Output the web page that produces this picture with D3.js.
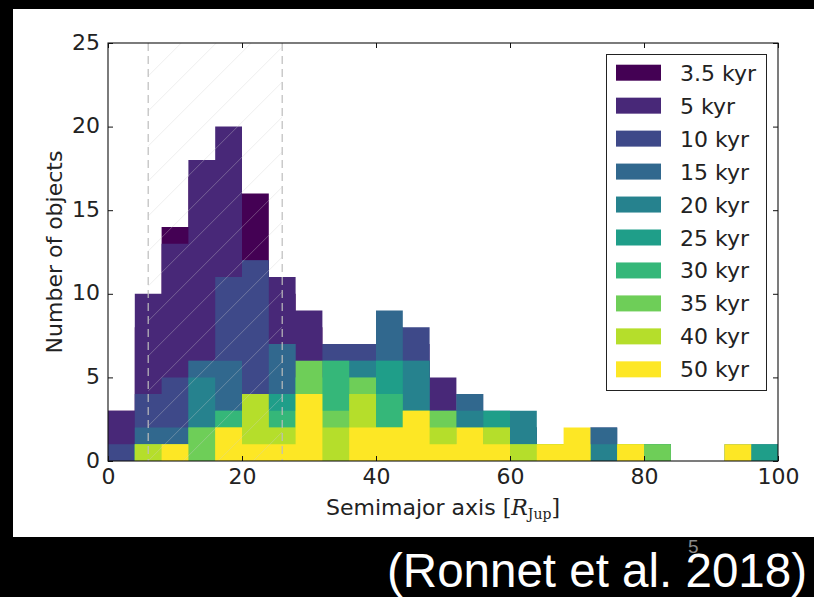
<!DOCTYPE html>
<html><head><meta charset="utf-8">
<script src="https://cdn.jsdelivr.net/npm/d3@7/dist/d3.min.js"></script>
<style>
html,body{margin:0;padding:0;background:#000;}
svg{display:block;}
</style></head><body>
<svg id="chart" width="814" height="597"></svg>
<script>
// ---------- data ----------
const binStarts = [0,4,8,12,16,20,24,28,32,36,40,44,48,52,56,60,64,68,72,76,80,84,88,92,96];
const binWidth = 4;
const seriesNames = ["3.5 kyr","5 kyr","10 kyr","15 kyr","20 kyr","25 kyr","30 kyr","35 kyr","40 kyr","50 kyr"];
const seriesColors = ["#440154","#482878","#3e4989","#31688e","#26828e","#1f9e89","#35b779","#6ece58","#b5de2b","#fde725"];
const counts3_5kyr = [3,8,14,17,18,16,10,8,6,6,7,6,4,3,2,1,1,1,1,0,0,0,0,0,0];
const counts5kyr   = [3,10,13,18,20,12,11,9,7,6,8,7,5,3,2,2,1,1,1,0,1,0,0,0,0];
const counts10kyr  = [1,4,5,6,11,12,7,6,7,7,8,8,3,4,2,2,1,1,2,0,1,0,0,0,0];
const counts15kyr  = [0,2,2,6,6,4,7,5,6,6,9,6,3,4,3,2,1,1,2,1,0,0,0,0,1];
const counts20kyr  = [0,1,1,5,3,4,4,5,6,6,6,6,3,3,2,3,1,1,1,0,1,0,0,1,0];
const counts25kyr  = [0,1,1,2,3,3,4,5,5,5,6,3,2,2,3,1,0,1,0,1,0,0,0,0,1];
const counts30kyr  = [0,1,1,2,3,3,3,5,6,4,4,3,2,2,1,1,1,1,0,0,1,0,0,0,0];
const counts35kyr  = [0,1,0,2,2,3,2,6,3,5,2,2,3,1,2,1,0,1,0,1,1,0,0,0,0];
const counts40kyr  = [0,1,1,0,2,4,2,3,2,4,2,3,2,1,2,1,1,1,0,1,0,0,0,0,0];
const counts50kyr  = [0,0,1,0,2,1,1,4,0,2,2,3,1,2,1,0,1,2,0,1,0,0,0,1,0];
const seriesCounts = [counts3_5kyr,counts5kyr,counts10kyr,counts15kyr,counts20kyr,counts25kyr,counts30kyr,counts35kyr,counts40kyr,counts50kyr];
const xTicks = [0,20,40,60,80,100];
const yTicks = [0,5,10,15,20,25];
const shadedRange = [6,26];

// ---------- layout ----------
const svg = d3.select("#chart");
const L = 108, R = 778, T = 43, B = 461;
const x = d3.scaleLinear().domain([0,100]).range([L,R]);
const y = d3.scaleLinear().domain([0,25]).range([B,T]);
const FONT = "'DejaVu Sans', sans-serif";

svg.append("rect").attr("x",0).attr("y",0).attr("width",814).attr("height",597).attr("fill","#000");
svg.append("rect").attr("x",13).attr("y",9).attr("width",801).attr("height",528).attr("fill","#fff");

// clip
const defs = svg.append("defs");
defs.append("clipPath").attr("id","plotclip")
  .append("rect").attr("x",L).attr("y",T).attr("width",R-L).attr("height",B-T);
defs.append("clipPath").attr("id","shadeclip")
  .append("rect").attr("x",x(shadedRange[0])).attr("y",T).attr("width",x(shadedRange[1])-x(shadedRange[0])).attr("height",B-T);

const plot = svg.append("g").attr("clip-path","url(#plotclip)");

// histograms (stepfilled), drawn in order, later on top
const area = d3.area()
  .x(d => x(d[0]))
  .y0(y(0))
  .y1(d => y(d[1]))
  .curve(d3.curveStepAfter);
seriesCounts.forEach((counts, i) => {
  const pts = binStarts.map((b, j) => [b, counts[j]]);
  pts.push([binStarts[binStarts.length-1] + binWidth, counts[counts.length-1]]);
  plot.append("path").attr("d", area(pts)).attr("fill", seriesColors[i]);
});

// hatch region
const hatch = svg.append("g").attr("clip-path","url(#shadeclip)");
const spacing = 35;
for (let k = -15; k <= 3; k++) {
  const x0 = x(shadedRange[0]) + k*spacing;
  hatch.append("line")
    .attr("x1", x0).attr("y1", B)
    .attr("x2", x0 + (B-T)).attr("y2", T)
    .attr("stroke","#d0d0d0").attr("stroke-opacity",0.35).attr("stroke-width",1);
}
// dashed lines
shadedRange.forEach(v => {
  svg.append("line").attr("x1",x(v)).attr("x2",x(v)).attr("y1",T).attr("y2",B)
    .attr("stroke","#bdbdbd").attr("stroke-width",1.2).attr("stroke-dasharray","8,5");
});

// axes frame
svg.append("rect").attr("x",L).attr("y",T).attr("width",R-L).attr("height",B-T)
  .attr("fill","none").attr("stroke","#111").attr("stroke-width",1.1);

// ticks (inward, all sides)
const tickLen = 5;
const axisB = svg.append("g").attr("transform",`translate(0,${B})`)
  .call(d3.axisBottom(x).tickValues(xTicks).tickSize(-tickLen).tickPadding(9).tickFormat(d3.format("d")));
const axisT = svg.append("g").attr("transform",`translate(0,${T})`)
  .call(d3.axisTop(x).tickValues(xTicks).tickSize(-tickLen).tickFormat(""));
const axisL = svg.append("g").attr("transform",`translate(${L},0)`)
  .call(d3.axisLeft(y).tickValues(yTicks).tickSize(-tickLen).tickPadding(9).tickFormat(d3.format("d")));
const axisR = svg.append("g").attr("transform",`translate(${R},0)`)
  .call(d3.axisRight(y).tickValues(yTicks).tickSize(-tickLen).tickFormat(""));
[axisB,axisT,axisL,axisR].forEach(a => {
  a.select(".domain").remove();
  a.selectAll(".tick line").attr("stroke","#111").attr("stroke-width",1);
  a.selectAll("text").attr("font-family",FONT).attr("font-size",22).attr("fill","#222");
});
axisB.selectAll("text").attr("dy",null).attr("y",23);
axisL.selectAll("text").attr("dy",null).attr("y",6).attr("x",-8);

// axis labels
const xl = svg.append("text").attr("x",443).attr("y",515).attr("text-anchor","middle")
  .attr("font-family",FONT).attr("font-size",22).attr("fill","#222");
xl.append("tspan").text("Semimajor axis ");
xl.append("tspan").attr("font-family","'DejaVu Serif', serif").text("[");
xl.append("tspan").attr("font-family","'DejaVu Serif', serif").attr("font-style","italic").text("R");
xl.append("tspan").attr("font-family","'DejaVu Serif', serif").attr("font-size",14).attr("dy",4).text("Jup");
xl.append("tspan").attr("font-family","'DejaVu Serif', serif").attr("dy",-4).text("]");

svg.append("text").attr("transform","translate(62,252) rotate(-90)").attr("text-anchor","middle")
  .attr("font-family",FONT).attr("font-size",22).attr("fill","#222").text("Number of objects");

// legend
const lg = svg.append("g");
lg.append("rect").attr("x",606.5).attr("y",54.5).attr("width",160).attr("height",336)
  .attr("fill","#fff").attr("stroke","#222").attr("stroke-width",1);
seriesNames.forEach((name, i) => {
  const cy = 72.7 + i*32.96;
  lg.append("rect").attr("x",616).attr("y",cy-8).attr("width",45).attr("height",16).attr("fill",seriesColors[i]);
  lg.append("text").attr("x",680).attr("y",cy+8).attr("font-family",FONT).attr("font-size",22)
    .attr("fill","#222").text(name);
});

// footer
svg.append("text").attr("x",387).attr("y",587).attr("font-family","'Liberation Sans', Arial, sans-serif")
  .attr("font-size",48).attr("fill","#fff").attr("textLength",420).attr("lengthAdjust","spacingAndGlyphs")
  .text("(Ronnet et al. 2018)");
svg.append("text").attr("x",688).attr("y",553).attr("font-family","'Liberation Sans', Arial, sans-serif")
  .attr("font-size",19).attr("fill","#8a8a8a").text("5");
</script>
</body></html>
